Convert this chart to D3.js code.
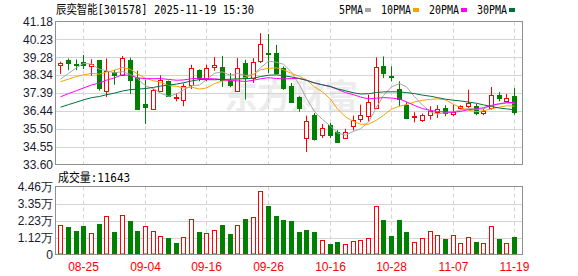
<!DOCTYPE html>
<html>
<head>
<meta charset="utf-8">
<script src="https://cdn.jsdelivr.net/npm/d3@7"></script>
<style>
  body { margin: 0; background: #fff; }
  svg { display: block; }
</style>
</head>
<body>
<div id="chart"></div>
<script>
(function(){

/* -------------------------------------------------
   1. DATA
   ------------------------------------------------- */
const dates = [
  "08-20","08-21","08-22","08-25","08-26","08-27","08-28","08-29",
  "09-01","09-02","09-03","09-04","09-05","09-08","09-09","09-10","09-11","09-12",
  "09-15","09-16","09-17","09-18","09-19","09-22","09-23","09-24","09-25","09-26",
  "09-29","09-30","10-09","10-10","10-13","10-14","10-15","10-16","10-17",
  "10-20","10-21","10-22","10-23","10-24","10-27","10-28","10-29","10-30","10-31",
  "11-03","11-04","11-05","11-06","11-07","11-10","11-11","11-12","11-13","11-14",
  "11-17","11-18","11-19"
];

const open = [38.88,39.12,38.95,39.03,38.80,39.12,37.53,38.48,38.36,39.15,
              38.18,36.81,36.54,37.48,38.01,37.14,37.00,37.83,38.62,38.18,
              38.75,38.76,38.01,37.48,38.98,38.18,39.07,39.52,39.50,38.71,
              37.74,37.18,35.01,36.24,35.19,35.68,35.31,35.01,35.68,35.98,
              36.16,36.60,38.83,38.29,37.62,36.74,36.10,35.95,36.24,36.37,
              36.60,36.30,36.60,36.72,36.69,36.35,36.56,37.27,36.99,37.22];
const high = [39.05,39.22,39.17,39.41,39.18,39.14,39.22,38.62,39.35,39.26,
              38.57,38.09,37.60,38.33,38.05,37.38,37.90,38.89,38.64,38.89,
              39.29,39.36,38.45,39.24,39.15,39.24,40.56,40.52,39.94,38.80,
              37.92,37.22,36.19,36.33,35.75,35.80,35.42,35.49,36.19,36.77,
              37.30,39.28,39.33,38.80,38.01,36.90,36.37,36.30,36.69,36.74,
              36.74,36.77,36.74,37.56,36.81,36.55,37.71,37.44,37.34,37.65];
const low  = [38.40,38.60,38.60,38.66,38.30,37.52,37.18,37.83,38.33,37.34,
              36.52,35.75,36.52,37.45,37.18,36.95,36.69,37.60,38.01,38.01,
              38.57,37.71,37.70,37.46,37.04,37.92,38.98,38.45,38.38,37.56,
              36.86,36.40,34.26,34.87,35.01,35.00,34.78,34.98,35.40,35.84,
              35.89,36.54,38.18,38.01,36.69,36.00,35.84,35.86,35.98,36.07,
              36.16,36.16,36.52,36.60,36.21,36.21,36.51,36.95,36.95,36.24];
const close = [38.98,38.94,38.90,38.86,38.92,37.62,38.57,38.30,39.24,38.09,
               36.56,36.67,37.55,38.06,37.22,37.18,37.74,38.71,38.18,38.71,
               38.85,38.09,37.78,38.71,38.18,39.01,39.98,39.48,38.45,37.65,
               36.91,36.60,35.89,34.97,35.54,35.15,34.80,35.31,35.98,36.21,
               36.91,38.75,38.45,38.25,37.09,36.03,36.16,36.21,36.45,36.54,
               36.35,36.40,36.69,36.86,36.33,36.45,37.27,37.09,37.13,36.37];
const volume = [19280,18170,15540,18820,14030,20130,25380,14890,25840,22100,
                15540,18630,15350,12260,10950,7670,11610,23220,14890,14230,
                16000,19480,13120,19280,23420,24730,41580,31940,25380,22760,
                22100,14890,16200,14890,9440,7020,8330,7020,8790,9440,
                10950,31940,22760,12260,22760,14890,8330,10760,15350,12920,
                10300,12920,7670,11410,8330,7670,18820,10300,7670,11643];

// closes of the 29 sessions before 08-20 (estimated), only used to seed the MAs
const prevCloses = [34.8,35.0,35.2,35.5,35.7,35.7,35.8,35.9,35.8,35.9,
                    35.6,35.8,36.0,35.7,35.5,35.6,35.9,35.9,38.9,39.0,
                    37.6,37.5,38.0,38.1,38.05,37.44,37.40,37.71,39.12];

const priceTicks = [33.60,34.55,35.50,36.44,37.39,38.34,39.28,40.23,41.18];
const volTicks = [0,11150,22300,33450,44600];
const volTickLabels = ["0","1.12万","2.23万","3.35万","4.46万"];
const dateTicks = ["08-25","09-04","09-16","09-26","10-16","10-28","11-07","11-19"];
const maPeriods = [5,10,20,30];
const maNames = ["5PMA","10PMA","20PMA","30PMA"];
const maColors = ["#a6a6a6","#f7a200","#ff00ff","#00703a"];

/* -------------------------------------------------
   2. SVG & SCALES
   ------------------------------------------------- */
const width = 578, height = 276;
const L = 55.5, R = 522.5;
const pTop = 21.5, pBot = 164.5;
const vTop = 186.5, vBot = 254.5;
const UP = "#ff0000", DOWN = "#008000";

const svg = d3.select("#chart").append("svg")
    .attr("width", width).attr("height", height)
    .style("font-family", "'Liberation Sans', Arial, sans-serif");

const x = d3.scaleBand().domain(dates).range([56.5, 518]);
const cx = d => Math.round(x(d) + x.bandwidth()/2) + 0.5;
const y = d3.scaleLinear().domain([33.60, 41.18]).range([pBot, pTop]);
const yv = d3.scaleLinear().domain([0, 44600]).range([vBot, vTop]);

/* -------------------------------------------------
   3. WATERMARK + GRID
   ------------------------------------------------- */
svg.append("text")
    .attr("x", 224).attr("y", 109)
    .attr("textLength", 134).attr("lengthAdjust", "spacingAndGlyphs")
    .style("font-family", "'Noto Sans CJK SC', sans-serif")
    .style("font-size", "34px").style("font-weight", "bold")
    .style("fill", "#ececec")
    .text("东方财富");

const grid = svg.append("g").attr("stroke", "#d4d4d4").attr("stroke-width", 1);

grid.selectAll(".hp").data(priceTicks.slice(1, -1)).enter().append("line")
    .attr("x1", L).attr("x2", R)
    .attr("y1", d => Math.round(y(d)) + 0.5).attr("y2", d => Math.round(y(d)) + 0.5);

grid.selectAll(".hv").data(volTicks.slice(1, -1)).enter().append("line")
    .attr("x1", L).attr("x2", R)
    .attr("y1", d => Math.round(yv(d)) + 0.5).attr("y2", d => Math.round(yv(d)) + 0.5);

[[pTop, pBot], [vTop, vBot]].forEach(([t, b]) => {
    grid.append("g").selectAll("line").data(dateTicks).enter().append("line")
        .attr("x1", d => cx(d)).attr("x2", d => cx(d))
        .attr("y1", t).attr("y2", b)
        .attr("stroke-dasharray", "4,3");
});

/* -------------------------------------------------
   4. CANDLES
   ------------------------------------------------- */
const idx = d3.range(dates.length);
const bodyW = 4;

const candle = svg.append("g").selectAll("g").data(idx).enter().append("g");

candle.append("line")
    .attr("x1", i => cx(dates[i])).attr("x2", i => cx(dates[i]))
    .attr("y1", i => y(high[i])).attr("y2", i => y(low[i]))
    .attr("stroke", i => close[i] >= open[i] ? UP : DOWN);

candle.append("rect")
    .attr("x", i => cx(dates[i]) - bodyW/2)
    .attr("width", bodyW)
    .attr("y", i => Math.round(y(Math.max(open[i], close[i]))) + 0.5)
    .attr("height", i => Math.max(0.01, Math.round(Math.abs(y(open[i]) - y(close[i])))))
    .attr("fill", i => close[i] >= open[i] ? "#fff" : DOWN)
    .attr("stroke", i => close[i] >= open[i] ? UP : DOWN);

/* -------------------------------------------------
   5. MOVING AVERAGES
   ------------------------------------------------- */
const series = prevCloses.concat(close);
const off = prevCloses.length;

svg.append("clipPath").attr("id", "plotClip")
    .append("rect").attr("x", L).attr("y", pTop).attr("width", R - L).attr("height", pBot - pTop);

const maLine = d3.line().x(d => cx(d.date)).y(d => y(d.v));

maPeriods.forEach((n, k) => {
    const pts = idx.map(i => ({
        date: dates[i],
        v: d3.mean(series.slice(off + i - n + 1, off + i + 1))
    }));
    svg.append("path")
        .datum(pts)
        .attr("clip-path", "url(#plotClip)")
        .attr("fill", "none")
        .attr("stroke", maColors[k])
        .attr("stroke-width", 1)
        .attr("d", maLine);
});

/* -------------------------------------------------
   6. VOLUME
   ------------------------------------------------- */
const volUp = i => i === 0 ? close[i] >= open[i] : close[i] >= close[i-1];

svg.append("g").selectAll("rect").data(idx).enter().append("rect")
    .attr("x", i => cx(dates[i]) - bodyW/2)
    .attr("width", bodyW)
    .attr("y", i => Math.round(yv(volume[i])) + 0.5)
    .attr("height", i => vBot - 0.5 - (Math.round(yv(volume[i])) + 0.5))
    .attr("fill", i => volUp(i) ? "#fff" : DOWN)
    .attr("stroke", i => volUp(i) ? UP : DOWN);

/* -------------------------------------------------
   7. FRAMES + AXES
   ------------------------------------------------- */
svg.append("rect").attr("x", L).attr("y", pTop).attr("width", R - L).attr("height", pBot - pTop)
    .attr("fill", "none").attr("stroke", "#8f8f8f");
svg.append("rect").attr("x", L).attr("y", vTop).attr("width", R - L).attr("height", vBot - vTop)
    .attr("fill", "none").attr("stroke", "#8f8f8f");

svg.append("g").selectAll("text").data(priceTicks).enter().append("text")
    .attr("x", 53).attr("y", d => y(d))
    .attr("dy", "0.36em")
    .attr("text-anchor", "end")
    .style("font-size", "12px").style("fill", "#1a1a2e")
    .text(d => d.toFixed(2));

svg.append("g").selectAll("text").data(volTicks).enter().append("text")
    .attr("x", 53).attr("y", d => yv(d))
    .attr("dy", "0.36em")
    .attr("text-anchor", "end")
    .style("font-size", "12px").style("fill", "#1a1a2e")
    .text((d, i) => volTickLabels[i]);

svg.append("g").selectAll("text").data(dateTicks).enter().append("text")
    .attr("x", d => cx(d)).attr("y", 271)
    .attr("text-anchor", "middle")
    .style("font-size", "12px").style("fill", "#ff0000")
    .text(d => d);

/* -------------------------------------------------
   8. TITLE, LEGEND, VOLUME LABEL
   ------------------------------------------------- */
const mono = "'DejaVu Sans Mono', 'Noto Sans CJK SC', monospace";

svg.append("text")
    .attr("x", 56).attr("y", 14)
    .attr("textLength", 198).attr("lengthAdjust", "spacingAndGlyphs")
    .style("font-family", mono).style("font-size", "12px").style("fill", "#000")
    .text("辰奕智能[301578] 2025-11-19 15:30");

const legend = svg.append("g");
let cursor = 339;
maNames.forEach((name, k) => {
    const w = name.length * 6;
    legend.append("text")
        .attr("x", cursor).attr("y", 14)
        .attr("textLength", w).attr("lengthAdjust", "spacingAndGlyphs")
        .style("font-family", mono).style("font-size", "12px").style("fill", "#000")
        .text(name);
    legend.append("rect")
        .attr("x", cursor + w + 2).attr("y", 8)
        .attr("width", 6).attr("height", 4)
        .attr("fill", maColors[k]);
    cursor += w + 18;
});

svg.append("text")
    .attr("x", 58).attr("y", 182)
    .attr("textLength", 72).attr("lengthAdjust", "spacingAndGlyphs")
    .style("font-family", mono).style("font-size", "12px").style("fill", "#000")
    .text("成交量:" + volume[volume.length - 1]);

})();
</script>
</body>
</html>
